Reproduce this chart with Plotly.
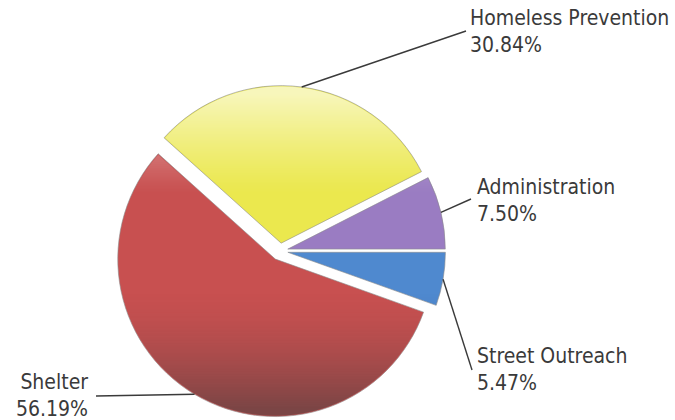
import math
import base64
import struct
import zlib

import numpy as np
import plotly.graph_objects as go

# Share of spending by program area (percent)
programs = ["Administration", "Homeless Prevention", "Shelter", "Street Outreach"]
shares = [7.50, 30.84, 56.19, 5.47]
slice_colors = ["#9a7cc2", "#ebe84e", "#c85050", "#4f89cf"]
pulls = [0.05, 0.05, 0.06, 0.05]

W, H = 675, 420
dom_x = [0.15, 0.68]
dom_y = [0.005, 0.8]
start_deg = 0.0  # first slice starts at 3 o'clock, going counterclockwise

total = sum(shares)
spans = [360 * v / total for v in shares]

fig = go.Figure(go.Pie(
    labels=programs,
    values=shares,
    sort=False,
    direction="counterclockwise",
    # plotly places the first counterclockwise slice so that it ends at `rotation`
    rotation=90 - start_deg - spans[0],
    pull=pulls,
    marker=dict(colors=slice_colors, line=dict(color="#8c8c8c", width=0.6)),
    textinfo="none",
    hoverinfo="label+percent",
    domain=dict(x=dom_x, y=dom_y),
    showlegend=False,
))

# Pie geometry in pixels, following plotly's own layout of the pie box
box_w = W * (dom_x[1] - dom_x[0])
box_h = H * (dom_y[1] - dom_y[0])
cx = W * (dom_x[0] + dom_x[1]) / 2
cy = H * (1 - dom_y[0]) - box_h / 2
r = min(box_w, box_h) / (2 + 2 * max(pulls))

# Slice angular ranges (math degrees, counterclockwise from 3 o'clock)
bounds = []
acc = start_deg
for s in spans:
    bounds.append((acc, acc + s))
    acc += s


def ray_distance(px, py, theta):
    """Distance from points to the ray leaving the origin at angle theta."""
    ux, uy = math.cos(theta), math.sin(theta)
    proj = px * ux + py * uy
    perp = np.abs(px * uy - py * ux)
    return np.where(proj > 0, perp, np.hypot(px, py))


def glossy_overlay():
    """Vertical light-to-dark shading clipped to the slices."""
    yy, xx = np.mgrid[0:H, 0:W].astype(float)
    xx += 0.5
    yy += 0.5
    cover = np.zeros((H, W))
    for (a0, a1), p in zip(bounds, pulls):
        mid = math.radians((a0 + a1) / 2)
        ox = cx + r * p * math.cos(mid)
        oy = cy - r * p * math.sin(mid)
        dx, dy = xx - ox, oy - yy
        dist = np.hypot(dx, dy)
        ang = (np.degrees(np.arctan2(dy, dx)) - a0) % 360
        inside = ang <= (a1 - a0)
        edge = np.minimum(ray_distance(dx, dy, math.radians(a0)),
                          ray_distance(dx, dy, math.radians(a1)))
        c = np.clip(r - dist - 0.3, 0, 1) * np.clip(edge - 0.3, 0, 1) * inside
        cover = np.maximum(cover, c)
    t = (yy - (cy - r)) / (2 * r)
    light = 0.62 * np.clip((0.32 - t) / 0.32, 0, 1) ** 1.2
    dark = 0.55 * np.clip((t - 0.62) / 0.38, 0, 1) ** 1.6
    rgb = np.where(light[..., None] > 0, 255.0, 60.0) * np.ones((1, 1, 3))
    alpha = (light + dark) * cover
    img = np.dstack([rgb, alpha[..., None] * 255]).clip(0, 255).astype(np.uint8)
    raw = b"".join(b"\x00" + row.tobytes() for row in img)

    def chunk(tag, data):
        return (struct.pack(">I", len(data)) + tag + data
                + struct.pack(">I", zlib.crc32(tag + data) & 0xFFFFFFFF))

    png = (b"\x89PNG\r\n\x1a\n"
           + chunk(b"IHDR", struct.pack(">IIBBBBB", W, H, 8, 6, 0, 0, 0))
           + chunk(b"IDAT", zlib.compress(raw, 9))
           + chunk(b"IEND", b""))
    return "data:image/png;base64," + base64.b64encode(png).decode()


# Label anchors (pixel positions of the label blocks) and alignment
label_pos = {
    "Homeless Prevention": dict(x=468, y=32, xanchor="left", align="left", tail=(466, 31)),
    "Administration": dict(x=475, y=200, xanchor="left", align="left", tail=(471, 199)),
    "Street Outreach": dict(x=475, y=369, xanchor="left", align="left", tail=(472, 370)),
    "Shelter": dict(x=90, y=395, xanchor="right", align="right", tail=(96, 396)),
}

shapes, annotations = [], []
font = dict(family="DejaVu Sans Condensed, Liberation Sans Narrow, Arial Narrow, sans-serif",
            size=21, color="#3a3a3a")
for name, val, p, (a0, a1) in zip(programs, shares, pulls, bounds):
    mid = math.radians((a0 + a1) / 2)
    # point on the outer arc of the pulled slice, at its middle angle
    sx = cx + r * (1 + p) * math.cos(mid)
    sy = cy - r * (1 + p) * math.sin(mid)
    lp = label_pos[name]
    tx, ty = lp["tail"]
    shapes.append(dict(type="line", xref="paper", yref="paper",
                       x0=sx / W, y0=1 - sy / H, x1=tx / W, y1=1 - ty / H,
                       line=dict(color="#3a3a3a", width=1.4)))
    annotations.append(dict(
        text=f"{name}<br>{val:.2f}%", xref="paper", yref="paper",
        x=lp["x"] / W, y=1 - lp["y"] / H, xanchor=lp["xanchor"], yanchor="middle",
        align=lp["align"], showarrow=False, font=font))

fig.update_layout(
    width=W, height=H,
    margin=dict(l=0, r=0, t=0, b=0),
    paper_bgcolor="white", plot_bgcolor="white",
    shapes=shapes, annotations=annotations,
    images=[dict(source=glossy_overlay(), xref="paper", yref="paper",
                 x=0, y=1, sizex=1, sizey=1, xanchor="left", yanchor="top",
                 sizing="stretch", layer="above")],
)

fig.write_html("out.html")
